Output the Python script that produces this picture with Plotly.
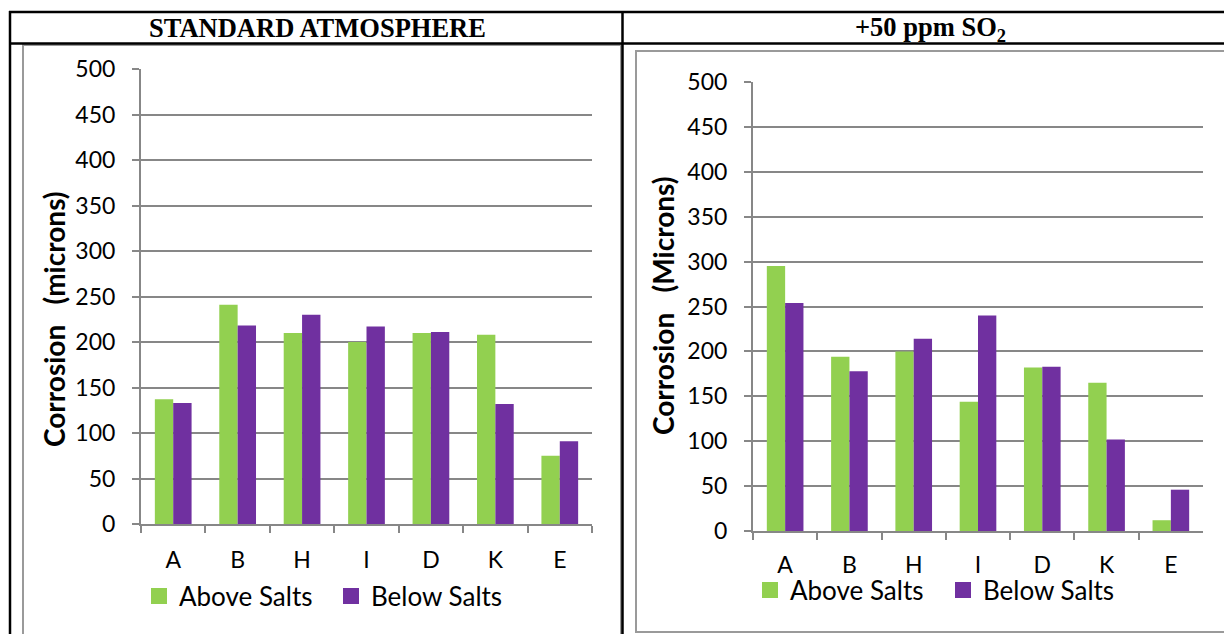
import plotly.graph_objects as go

# Sample categories and corrosion depths (microns)
categories = ["A", "B", "H", "I", "D", "K", "E"]
std_above = [137, 241, 210, 200, 210, 208, 75]
std_below = [133, 218, 230, 217, 211, 132, 91]
so2_above = [295, 194, 200, 144, 182, 165, 12]
so2_below = [254, 178, 214, 240, 183, 102, 46]
series_names = ["Above Salts", "Below Salts"]
y_ticks = [0, 50, 100, 150, 200, 250, 300, 350, 400, 450, 500]

W, H = 1224, 634
GREEN = "#92D050"
PURPLE = "#7030A0"
GRID = "#878787"
LABEL_FONT = "Lato, 'Open Sans', sans-serif"


def px(x):
    return x / W


def py(y):
    return 1 - y / H


fig = go.Figure()

panels = [
    ("x", "y", "legend", std_above, std_below),
    ("x2", "y2", "legend2", so2_above, so2_below),
]
for xa, ya, lg, above, below in panels:
    for name, vals, col in zip(series_names, [above, below], [GREEN, PURPLE]):
        fig.add_trace(go.Bar(x=categories, y=vals, name=name, marker_color=col,
                             marker_line_width=0, xaxis=xa, yaxis=ya, showlegend=False))
    # legend keys: larger square swatches than the default bar icon
    for name, col in zip(series_names, [GREEN, PURPLE]):
        fig.add_trace(go.Scatter(x=[None], y=[None], mode="markers", name=name,
                                 marker=dict(symbol="square", size=16, color=col),
                                 xaxis=xa, yaxis=ya, legend=lg, hoverinfo="skip"))

xaxis_common = dict(
    type="category", categoryorder="array", categoryarray=categories,
    showline=True, linecolor=GRID, linewidth=2,
    ticks="outside", tickson="boundaries", ticklen=7, tickwidth=2, tickcolor=GRID,
    showgrid=False, tickfont=dict(family=LABEL_FONT, size=23, color="#000"),
    fixedrange=True, automargin=False,
)
yaxis_common = dict(
    range=[0, 500], tickvals=y_ticks, showline=True, linecolor=GRID, linewidth=2,
    ticks="outside", ticklen=7, tickwidth=2, tickcolor=GRID,
    showgrid=True, gridcolor=GRID, gridwidth=2, zeroline=False,
    tickfont=dict(family=LABEL_FONT, size=23, color="#000"),
    ticklabelstandoff=12, fixedrange=True, automargin=False,
)

legend_font = dict(family=LABEL_FONT, size=26, color="#000")

fig.update_layout(
    width=W, height=H,
    margin=dict(l=0, r=0, t=0, b=0, autoexpand=False),
    paper_bgcolor="white", plot_bgcolor="white",
    bargap=0.43, bargroupgap=0,
    xaxis=dict(domain=[px(141), px(592)], anchor="y", ticklabelstandoff=14, **xaxis_common),
    yaxis=dict(domain=[py(524), py(69)], anchor="x", **yaxis_common),
    xaxis2=dict(domain=[px(753), px(1203)], anchor="y2", ticklabelstandoff=12, **xaxis_common),
    yaxis2=dict(domain=[py(531), py(82)], anchor="x2", **yaxis_common),
    legend=dict(orientation="h", x=px(139), y=py(596), xanchor="left", yanchor="middle",
                font=legend_font, entrywidth=147, bgcolor="rgba(0,0,0,0)",
                traceorder="normal", itemsizing="trace"),
    legend2=dict(orientation="h", x=px(750), y=py(590), xanchor="left", yanchor="middle",
                 font=legend_font, entrywidth=148, bgcolor="rgba(0,0,0,0)",
                 traceorder="normal", itemsizing="trace"),
)

shapes = []
# chart frames
shapes.append(dict(type="rect", xref="paper", yref="paper",
                   x0=px(23), x1=px(621), y0=py(640), y1=py(45),
                   line=dict(color="#9a9a9a", width=2)))
shapes.append(dict(type="rect", xref="paper", yref="paper",
                   x0=px(636), x1=px(1230), y0=py(632), y1=py(51),
                   line=dict(color="#9a9a9a", width=2)))
# table rules
black = dict(color="#000", width=2.5)
shapes.append(dict(type="line", xref="paper", yref="paper",
                   x0=px(9), x1=px(1230), y0=py(12), y1=py(12), line=black))
shapes.append(dict(type="line", xref="paper", yref="paper",
                   x0=px(9), x1=px(1230), y0=py(43.5), y1=py(43.5), line=black))
shapes.append(dict(type="line", xref="paper", yref="paper",
                   x0=px(10), x1=px(10), y0=py(11), y1=py(640), line=black))
shapes.append(dict(type="line", xref="paper", yref="paper",
                   x0=px(622.5), x1=px(622.5), y0=py(11), y1=py(640), line=black))
fig.update_layout(shapes=shapes)

header_font = dict(family="'Liberation Serif', 'Times New Roman', serif", size=26.5, color="#000")
fig.add_annotation(text="<b>STANDARD ATMOSPHERE</b>", x=px(317), y=py(28),
                   xref="paper", yref="paper", showarrow=False, font=header_font,
                   xanchor="center", yanchor="middle")
fig.add_annotation(text="<b>+50 ppm SO<sub>2</sub></b>", x=px(930), y=py(29),
                   xref="paper", yref="paper", showarrow=False, font=header_font,
                   xanchor="center", yanchor="middle")

title_font = dict(family=LABEL_FONT, size=28, color="#000")
fig.add_annotation(text="<b>Corrosion\u00a0\u00a0\u00a0(microns)</b>", x=px(54), y=py(319),
                   xref="paper", yref="paper", showarrow=False, textangle=-90,
                   font=title_font, xanchor="center", yanchor="middle")
fig.add_annotation(text="<b>Corrosion\u00a0\u00a0\u00a0(Microns)</b>", x=px(663), y=py(306),
                   xref="paper", yref="paper", showarrow=False, textangle=-90,
                   font=title_font, xanchor="center", yanchor="middle")

fig.write_html("out.html")
